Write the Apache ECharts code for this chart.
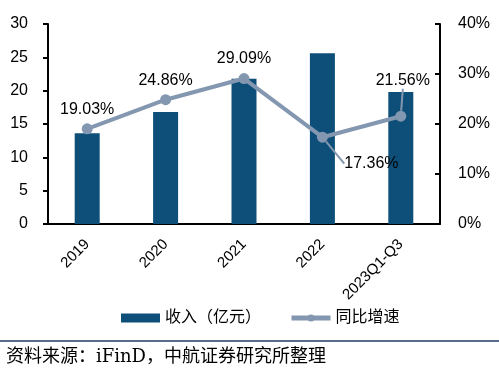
<!DOCTYPE html>
<html><head><meta charset="utf-8">
<script src="https://cdn.jsdelivr.net/npm/echarts@6/dist/echarts.min.js"></script>
<style>html,body{margin:0;padding:0;background:#fff}#c{width:499px;height:379px}</style>
</head><body><div id="c"></div>
<script>
const categories = ['2019', '2020', '2021', '2022', '2023Q1-Q3'];
const revenue = [13.6, 16.8, 21.8, 25.6, 19.8];
const growth = [19.03, 24.86, 29.09, 17.36, 21.56];
const leftTicks = [0, 5, 10, 15, 20, 25, 30];
const rightTicks = ['0%', '10%', '20%', '30%', '40%'];
const seriesNames = ['收入（亿元）', '同比增速'];
const sourceText = '资料来源：iFinD，中航证券研究所整理';

const BAR = '#0D4F78', LINE = '#8497B0';
const font = '"Liberation Sans","Noto Sans CJK SC",sans-serif';
const chart = echarts.init(document.getElementById('c'), null, {renderer: 'canvas'});
chart.setOption({
  animation: false,
  textStyle: {fontFamily: font, color: '#000'},
  grid: {left: 48, right: 59, top: 24, bottom: 155, containLabel: false},
  legend: {
    bottom: 48, left: 116, itemGap: 28, itemWidth: 39, itemHeight: 9,
    textStyle: {fontSize: 16, color: '#000', fontFamily: font},
    data: [{name: seriesNames[0], icon: 'rect'}, {name: seriesNames[1], lineStyle: {width: 5}}]
  },
  xAxis: {
    type: 'category', data: categories,
    axisLine: {lineStyle: {color: '#000', width: 2}},
    axisTick: {show: false},
    axisLabel: {rotate: 45, fontSize: 15, color: '#000', margin: 18, interval: 0}
  },
  yAxis: [{
    type: 'value', min: 0, max: 30, interval: 5,
    axisLine: {show: true, lineStyle: {color: '#000', width: 2}},
    axisTick: {show: true, length: 5, lineStyle: {color: '#000', width: 2}},
    splitLine: {show: false},
    axisLabel: {fontSize: 16, color: '#000', margin: 20,
      formatter: v => leftTicks.includes(v) ? String(v) : ''}
  }, {
    type: 'value', min: 0, max: 40, interval: 10, position: 'right',
    axisLine: {show: true, lineStyle: {color: '#000', width: 2}},
    axisTick: {show: true, inside: true, length: 5, lineStyle: {color: '#000', width: 2}},
    splitLine: {show: false},
    axisLabel: {fontSize: 16, color: '#000', margin: 18,
      formatter: v => rightTicks[v / 10]}
  }],
  series: [{
    name: seriesNames[0], type: 'bar', data: revenue, barWidth: 25,
    itemStyle: {color: BAR}
  }, {
    name: seriesNames[1], type: 'line', yAxisIndex: 1,
    symbol: 'circle', symbolSize: 11,
    lineStyle: {color: LINE, width: 4}, itemStyle: {color: LINE},
    label: {show: true, position: 'top', distance: 6, fontSize: 16, color: '#000',
      formatter: p => p.value.toFixed(2) + '%'},
    labelLine: {show: true, lineStyle: {color: LINE, width: 2}},
    labelLayout: function (p) {
      if (p.dataIndex === 3) return {dx: 49, dy: 46};
      if (p.dataIndex === 4) return {dx: 2, dy: -16};
      return {};
    },
    data: growth.map((v, i) => (i >= 3 ? {value: v} : {value: v, labelLine: {show: false}}))
  }],
  graphic: [
    {type: 'line', shape: {x1: 0, y1: 341, x2: 499, y2: 341}, style: {stroke: '#1F3F66', lineWidth: 1.5}},
    {type: 'text', left: 6, top: 348, style: {text: sourceText, fontSize: 18, fill: '#000',
      fontFamily: '"DejaVu Serif","Noto Sans CJK SC",serif'}}
  ]
});
</script></body></html>
